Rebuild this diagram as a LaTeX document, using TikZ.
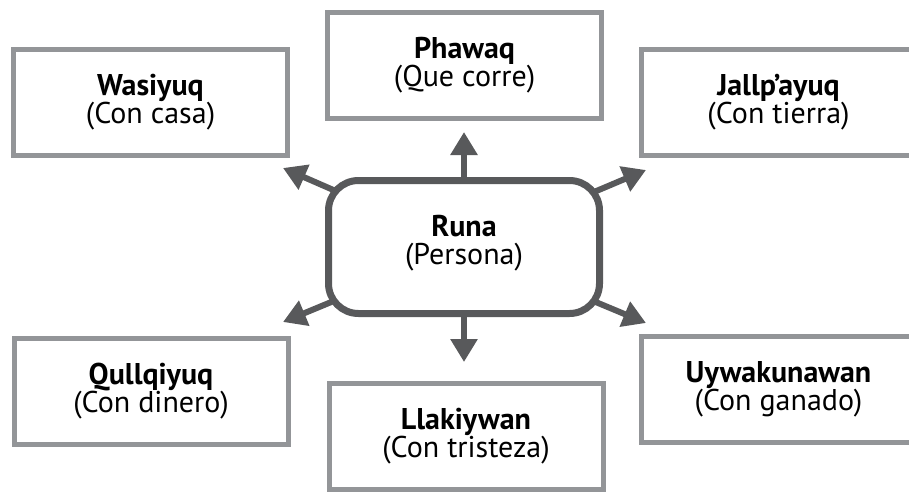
\documentclass[tikz,border=0pt]{standalone}
\usepackage{fontspec}
\setmainfont{PT Sans}
\usetikzlibrary{arrows.meta}
\definecolor{boxgray}{HTML}{939598}
\definecolor{darkgray}{HTML}{58595B}
\tikzset{
  leaf/.style={draw=boxgray, line width=5pt, fill=white, minimum width=274pt, minimum height=106pt, align=center, inner sep=0pt, font=\fontsize{30pt}{28pt}\selectfont},
  hub/.style={draw=darkgray, line width=7pt, fill=white, rounded corners=30pt, minimum width=271pt, minimum height=133pt, inner sep=0pt},
  hubtext/.style={align=center, inner sep=0pt, font=\fontsize{30pt}{28pt}\selectfont},
  spoke/.style={draw=darkgray, line width=6pt, -{Triangle[length=23pt,width=26pt]}}
}
\begin{document}
\begin{tikzpicture}[x=1pt,y=-1pt]
\useasboundingbox (0,0) rectangle (909,493);
\clip (0,0) rectangle (909,493);
\coordinate (tn) at (464,132);
\coordinate (ts) at (464,362);
\coordinate (tnw) at (283,168);
\coordinate (tne) at (646,170);
\coordinate (tsw) at (283,322);
\coordinate (tse) at (646,323);
\coordinate (hc) at (464,247);
\foreach \t in {tn,ts,tnw,tne,tsw,tse} \draw[spoke] (hc) -- (\t);
\node[hub] (runa) at (464,247) {};
\node[hubtext] (runatext) at (464,243) {\textbf{Runa}\\(Persona)};
\node[leaf] (wasi) at (150.5,102.5) {\textbf{Wasiyuq}\\(Con casa)};
\node[leaf] (phaw) at (464.5,65.5) {\textbf{Phawaq}\\(Que corre)};
\node[leaf] (jall) at (778.5,102.5) {\textbf{Jallp’ayuq}\\(Con tierra)};
\node[leaf] (qull) at (151,391) {\textbf{Qullqiyuq}\\(Con dinero)};
\node[leaf] (llak) at (466,436) {\textbf{Llakiywan}\\(Con tristeza)};
\node[leaf] (uywa) at (778.5,389) {\textbf{Uywakunawan}\\(Con ganado)};
\end{tikzpicture}
\end{document}
